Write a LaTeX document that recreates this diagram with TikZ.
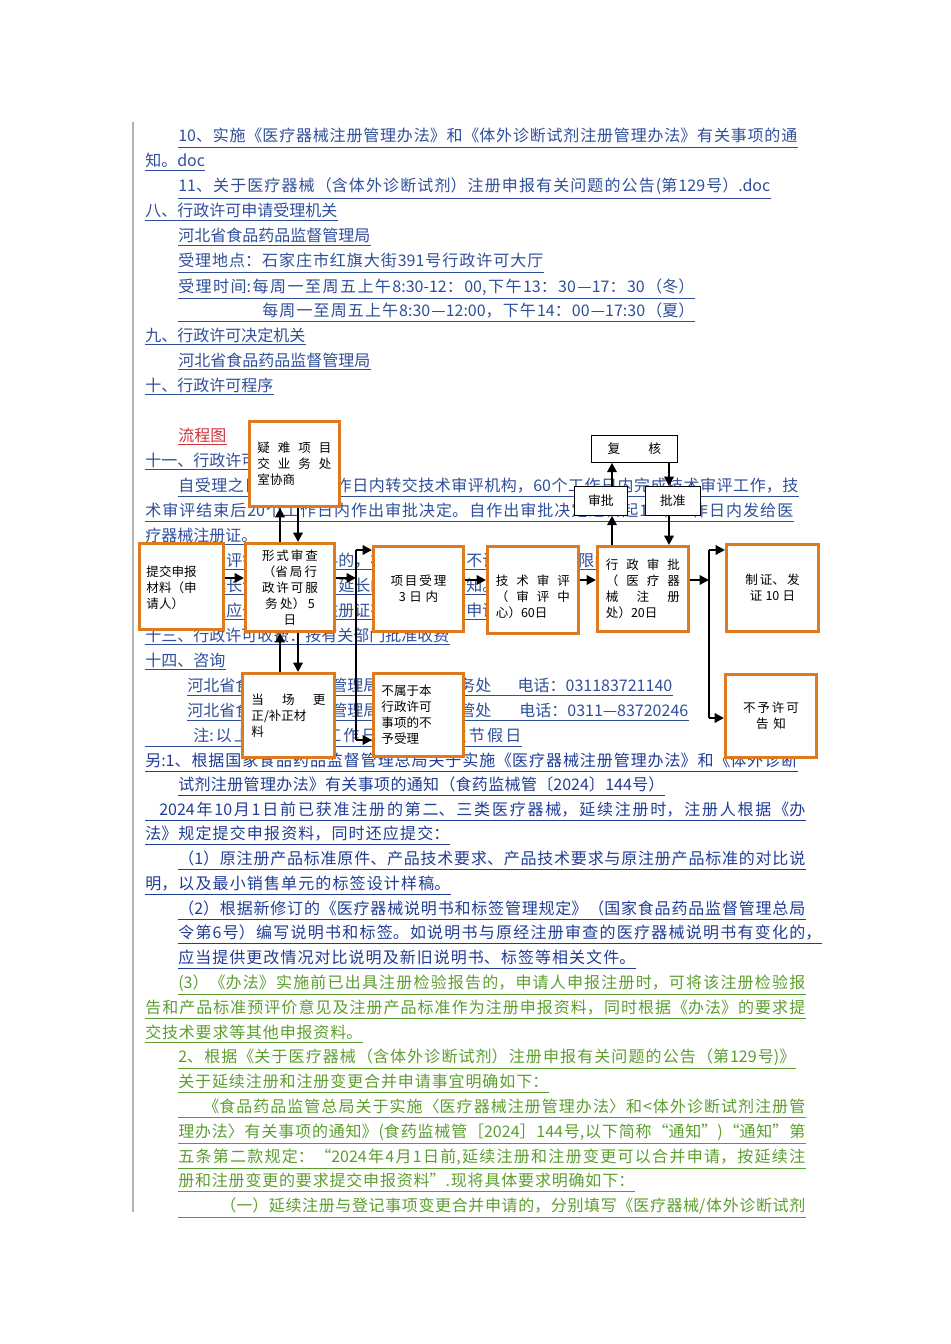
\documentclass[tikz,border=0pt]{standalone}
\usepackage{fontspec}
\setmainfont{Noto Sans CJK SC}
\newfontfamily\heavycjk{Noto Sans CJK SC}[FakeBold=2]
\usetikzlibrary{arrows.meta}
\XeTeXlinebreaklocale "zh"
\XeTeXlinebreakskip=0pt plus 4pt minus 0.6pt
\newdimen\pxu \pxu=0.75pt
\definecolor{docblue}{HTML}{2F4F9A}
\definecolor{deepblue}{HTML}{1F3C96}
\definecolor{docgreen}{HTML}{5C9E2E}
\definecolor{boxorange}{HTML}{E07A1F}
\definecolor{flowred}{HTML}{D0333A}
% one underlined line of the page: name, x, y, colour, width (px), text
\newcommand\docline[6]{\node[doctext,text=#4] (#1) at (#2,#3) {\parbox[b]{#5\pxu}{\noindent\parfillskip=0pt #6}};
\draw[#4,line width=0.7pt] ([yshift=-2.5pt]#1.south west) -- ([yshift=-2.5pt]#1.south east);}
\newcommand\docshort[5]{\node[doctext,text=#4] (#1) at (#2,#3) {#5};
\draw[#4,line width=0.7pt] ([yshift=-2.5pt]#1.base west) -- ([yshift=-2.5pt]#1.base east);}

\begin{document}
\begin{tikzpicture}[x=0.75pt,y=-0.75pt,
  doctext/.style={anchor=base west,inner sep=0pt,font=\fontsize{12pt}{14pt}\selectfont},
  flowbox/.style={draw=boxorange,line width=2.2pt,fill=white,inner sep=3pt,align=left,
    font=\fontsize{9.4pt}{12pt}\selectfont},
  smallbox/.style={draw=black,line width=0.6pt,fill=white,font=\fontsize{9.6pt}{12pt}\selectfont},
  flow/.style={line width=1.6pt,-{Triangle[length=7pt,width=7pt]}},
  bus/.style={line width=1.6pt}]
\useasboundingbox (0,0) rectangle (950,1344);
\draw[gray!60,line width=0.8pt] (133,122) -- (133,1212);

% text of the page
\docline{l1}{178}{142}{docblue}{619}{10、实施《医疗器械注册管理办法》和《体外诊断试剂注册管理办法》有关事项的通}
\docshort{l2}{145}{167}{docblue}{知。doc}
\docline{l3}{178}{192}{docblue}{592}{11、关于医疗器械（含体外诊断试剂）注册申报有关问题的公告(第129号）.doc}
\docshort{l4}{145}{217}{docblue}{八、行政许可申请受理机关}
\docshort{l5}{178}{242}{docblue}{河北省食品药品监督管理局}
\docline{l6}{178}{267}{docblue}{365}{受理地点：石家庄市红旗大街391号行政许可大厅}
\docline{l7}{178}{292}{docblue}{516}{受理时间:每周一至周五上午8:30-12：00,下午13：30—17：30（冬）}
\docline{l8}{178}{316}{docblue}{516}{\hskip84\pxu 每周一至周五上午8:30—12:00，下午14：00—17:30（夏）}
\docshort{l9}{145}{341}{docblue}{九、行政许可决定机关}
\docshort{l10}{178}{366}{docblue}{河北省食品药品监督管理局}
\docshort{l11}{145}{391}{docblue}{十、行政许可程序}
\docshort{l12}{178}{441}{flowred}{流程图}
\docshort{l13}{145}{466}{docblue}{十一、行政许可期限}
\docline{l14}{178}{491}{docblue}{620}{自受理之日起，3个工作日内转交技术审评机构，60个工作日内完成技术审评工作，技}
\docline{l15}{145}{516}{docblue}{648}{术审评结束后20个工作日内作出审批决定。自作出审批决定之日起10个工作日内发给医}
\docshort{l16}{145}{541}{docblue}{疗器械注册证。}
\docshort{l17}{178}{566}{docblue}{技术审评需要补充资料的，补充资料时间不计算在审批期限内。}
\docshort{l18}{178}{591}{docblue}{依法延长许可期限的，延长的期限另行告知。}
\docshort{l19}{178}{616}{docblue}{申请人应于医疗器械注册证有效期届满前申请。}
\docshort{l20}{145}{641}{docblue}{十三、行政许可收费：按有关部门批准收费}
\docshort{l21}{145}{666}{docblue}{十四、咨询}
\docline{l22}{187}{691}{docblue}{485}{河北省食品药品监督管理局行政许可服务处\hfil 电话：031183721140}
\docline{l23}{187}{716}{docblue}{501}{河北省食品药品监督管理局医疗器械监管处\hfil 电话：0311—83720246}
\docline{l24}{145}{741}{docblue}{376}{\hskip48\pxu 注:以上时限均为工作日，不含法定节假日\hfil}
\begin{scope}[every node/.append style={font=\fontsize{12pt}{14pt}\heavycjk}]
\docline{l25}{145}{766}{deepblue}{652}{另:1、根据国家食品药品监督管理总局关于实施《医疗器械注册管理办法》和《体外诊断}
\docline{l26}{178}{790}{deepblue}{486}{试剂注册管理办法》有关事项的通知（食药监械管〔2024〕144号）}
\docline{l27}{145}{815}{deepblue}{660}{\hskip14\pxu 2024年10月1日前已获准注册的第二、三类医疗器械，延续注册时，注册人根据《办}
\docline{l28}{145}{839}{deepblue}{304}{法》规定提交申报资料，同时还应提交：}
\docline{l29}{178}{864}{deepblue}{627}{（1）原注册产品标准原件、产品技术要求、产品技术要求与原注册产品标准的对比说}
\docline{l30}{145}{889}{deepblue}{305}{明，以及最小销售单元的标签设计样稿。}
\docline{l31}{178}{914}{deepblue}{627}{（2）根据新修订的《医疗器械说明书和标签管理规定》（国家食品药品监督管理总局}
\docline{l32}{178}{938}{deepblue}{643}{令第6号）编写说明书和标签。如说明书与原经注册审查的医疗器械说明书有变化的，}
\docline{l33}{178}{963}{deepblue}{457}{应当提供更改情况对比说明及新旧说明书、标签等相关文件。}
\docline{l34}{178}{988}{docgreen}{627}{(3）《办法》实施前已出具注册检验报告的，申请人申报注册时，可将该注册检验报}
\docline{l35}{145}{1013}{docgreen}{660}{告和产品标准预评价意见及注册产品标准作为注册申报资料，同时根据《办法》的要求提}
\docline{l36}{145}{1038}{docgreen}{217}{交技术要求等其他申报资料。}
\docline{l37}{178}{1062}{docgreen}{617}{2、根据《关于医疗器械（含体外诊断试剂）注册申报有关问题的公告（第129号)》}
\docline{l38}{178}{1087}{docgreen}{370}{关于延续注册和注册变更合并申请事宜明确如下：}
\docline{l39}{178}{1112}{docgreen}{627}{\hskip25\pxu《食品药品监管总局关于实施〈医疗器械注册管理办法〉和<体外诊断试剂注册管}
\docline{l40}{178}{1137}{docgreen}{627}{理办法〉有关事项的通知》(食药监械管［2024］144号,以下简称“通知”)“通知”第}
\docline{l41}{178}{1162}{docgreen}{627}{五条第二款规定：“2024年4月1日前,延续注册和注册变更可以合并申请，按延续注}
\docline{l42}{178}{1186}{docgreen}{456}{册和注册变更的要求提交申报资料”.现将具体要求明确如下：}
\docline{l43}{178}{1211}{docgreen}{627}{\hskip42\pxu（一）延续注册与登记事项变更合并申请的，分别填写《医疗器械/体外诊断试剂}
\end{scope}

% flow chart
\node[flowbox,anchor=north west,minimum width=90\pxu,minimum height=85\pxu,text width=74\pxu,align=justify] (consult) at (248,420) {疑\hfill 难\hfill 项\hfill 目\\ 交\hfill 业\hfill 务\hfill 处\\ 室协商};
\node[flowbox,anchor=north west,minimum width=84\pxu,minimum height=86\pxu,text width=70\pxu,align=justify,text depth=30\pxu] (submit) at (138,542) {提交申报\\ 材料（申\\ 请人）};
\node[flowbox,anchor=north west,minimum width=89\pxu,minimum height=88\pxu,text width=74\pxu,align=center,inner sep=1pt] (formal) at (244,542) {形式审查\\（省局行\\ 政许可服\\ 务处）5\\ 日};
\node[flowbox,anchor=north west,minimum width=90\pxu,minimum height=85\pxu,text width=74\pxu,align=center] (accept) at (372,545) {项目受理\\ 3日内};
\node[flowbox,anchor=north west,minimum width=91\pxu,minimum height=87\pxu,text width=74\pxu,align=justify,text depth=20\pxu] (techrev) at (486,545) {技\hfill 术\hfill 审\hfill 评\\（\hfill 审\hfill 评\hfill 中\\ 心）60日};
\node[flowbox,anchor=north west,minimum width=91\pxu,minimum height=85\pxu,text width=74\pxu,align=justify] (adminrev) at (596,545) {行\hfill 政\hfill 审\hfill 批\\（\hfill 医\hfill 疗\hfill 器\\ 械\hfill 注\hfill 册\\ 处）20日};
\node[flowbox,anchor=north west,minimum width=92\pxu,minimum height=87\pxu,text width=74\pxu,align=center] (issue) at (725,543) {制证、发\\ 证10日};
\node[flowbox,anchor=north west,minimum width=92\pxu,minimum height=84\pxu,text width=74\pxu,align=justify] (correct) at (241,672) {当\hfill 场\hfill 更\\ 正/补正材\\ 料};
\node[flowbox,anchor=north west,minimum width=90\pxu,minimum height=83\pxu,text width=74\pxu,align=left] (reject) at (372,672) {不属于本\\ 行政许可\\ 事项的不\\ 予受理};
\node[flowbox,anchor=north west,minimum width=91\pxu,minimum height=83\pxu,text width=74\pxu,align=center] (refuse) at (724,673) {不予许可\\ 告知};
\node[smallbox,anchor=north west,minimum width=86\pxu,minimum height=27\pxu] (recheck) at (591,435) {复\hspace{2.2em}核};
\node[smallbox,anchor=north west,minimum width=53\pxu,minimum height=29\pxu] (approve) at (574,486) {审批};
\node[smallbox,anchor=north west,minimum width=55\pxu,minimum height=29\pxu] (grant) at (645,486) {批准};

\coordinate (busA) at (356,550);
\coordinate (busB) at (356,740);
\coordinate (busC) at (709,550);
\coordinate (busD) at (709,718);

\draw[flow] (submit.east |- 0,578) -- (formal.west |- 0,578);
\draw[flow] (formal.east |- 0,578) -- (356,578);
\draw[bus] (busA) -- (busB);
\draw[flow] (busA) -- (accept.west |- busA);
\draw[flow] (busB) -- (reject.west |- busB);
\draw[flow] (accept.east |- 0,580) -- (techrev.west |- 0,580);
\draw[flow] (techrev.east |- 0,580) -- (adminrev.west |- 0,580);
\draw[flow] (adminrev.east |- 0,580) -- (709,580);
\draw[bus] (busC) -- (busD);
\draw[flow] (busC) -- (issue.west |- busC);
\draw[flow] (busD) -- (refuse.west |- busD);
\draw[flow] (formal.north -| 280,0) -- (consult.south -| 280,0);
\draw[flow] (consult.south -| 298,0) -- (formal.north -| 298,0);
\draw[flow] (correct.north -| 280,0) -- (formal.south -| 280,0);
\draw[flow] (formal.south -| 298,0) -- (correct.north -| 298,0);
\draw[flow] (adminrev.north -| 612,0) -- (approve.south -| 612,0);
\draw[flow] (approve.north -| 612,0) -- (recheck.south -| 612,0);
\draw[flow] (recheck.south -| 669,0) -- (grant.north -| 669,0);
\draw[flow] (grant.south -| 669,0) -- (adminrev.north -| 669,0);
\end{tikzpicture}
\end{document}
